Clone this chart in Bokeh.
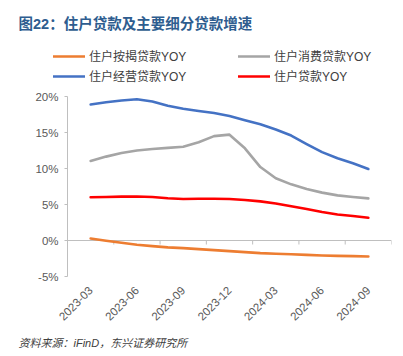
from bokeh.plotting import figure
from bokeh.models import (Range1d, FixedTicker, LinearAxis, PrintfTickFormatter,
                          Legend, LegendItem, Title)
from bokeh.embed import file_html
from bokeh.resources import INLINE
import math

# ---------------- data ----------------
months = ["2023-03", "2023-04", "2023-05", "2023-06", "2023-07", "2023-08", "2023-09",
          "2023-10", "2023-11", "2023-12", "2024-01", "2024-02", "2024-03", "2024-04",
          "2024-05", "2024-06", "2024-07", "2024-08", "2024-09"]
mortgage = [0.28, -0.04, -0.32, -0.58, -0.78, -0.95, -1.06, -1.2, -1.34, -1.48, -1.62,
            -1.75, -1.83, -1.9, -2.0, -2.08, -2.13, -2.17, -2.22]
consumer = [11.05, 11.65, 12.15, 12.5, 12.7, 12.87, 13.02, 13.65, 14.5, 14.7, 12.8,
            10.2, 8.65, 7.8, 7.15, 6.65, 6.27, 6.04, 5.85]
business = [18.88, 19.2, 19.45, 19.62, 19.3, 18.72, 18.3, 17.98, 17.7, 17.3, 16.7,
            16.15, 15.42, 14.58, 13.4, 12.28, 11.42, 10.73, 9.94]
household = [6.0, 6.05, 6.1, 6.12, 6.04, 5.87, 5.77, 5.8, 5.8, 5.76, 5.62, 5.43, 5.15,
             4.76, 4.37, 3.95, 3.62, 3.4, 3.16]
series_names = ["住户按揭贷款YOY", "住户消费贷款YOY", "住户经营贷款YOY", "住户贷款YOY"]
label_months = ["2023-03", "2023-06", "2023-09", "2023-12", "2024-03", "2024-06", "2024-09"]
title_text = "图22：住户贷款及主要细分贷款增速"
source_text = "资料来源：iFinD，东兴证券研究所"

# ---------------- layout constants (pixels) ----------------
CJK = "'Liberation Sans', 'Noto Sans CJK SC'"
W, H = 403, 356
FRAME_L, FRAME_T = 33, 40            # frame edges on the canvas
PLOT_L, PLOT_R = 67, 391             # plotting area (axis region) on the canvas
PLOT_T, PLOT_B = 96, 276
EXT_B = 7                            # frame extends below the -5% line so its label shows
n_slots = len(months) + 2            # one empty category slot on each side
xs = [i + 1.5 for i in range(len(months))]
Y0, Y1 = -5, 20
slot_px = (PLOT_R - PLOT_L) / n_slots
unit_px = (PLOT_B - PLOT_T) / (Y1 - Y0)

p = figure(width=W, height=H, output_backend="svg", toolbar_location=None,
           x_range=Range1d(-(PLOT_L - FRAME_L) / slot_px, n_slots),
           y_range=Range1d(Y0 - EXT_B / unit_px, Y1 + (PLOT_T - FRAME_T) / unit_px),
           min_border_left=FRAME_L, min_border_right=W - PLOT_R,
           min_border_top=FRAME_T, min_border_bottom=H - PLOT_B - EXT_B,
           x_axis_type=None, y_axis_type=None)
p.outline_line_color = None
p.xgrid.visible = False
p.ygrid.visible = False
p.background_fill_color = "white"
p.border_fill_color = "white"

# y axis drawn at x = 0 (left edge of the category area)
yax = LinearAxis(ticker=FixedTicker(ticks=list(range(Y0, Y1 + 1, 5))),
                 formatter=PrintfTickFormatter(format="%d%%"),
                 fixed_location=0, bounds=(Y0, Y1))
yax.axis_line_color = "#BFBFBF"
yax.major_tick_line_color = "#BFBFBF"
yax.major_tick_out = 3
yax.major_tick_in = 0
yax.minor_tick_line_color = None
yax.major_label_standoff = 6
yax.major_label_text_font = CJK
yax.major_label_text_font_size = "11.5px"
yax.major_label_text_color = "#595959"
p.add_layout(yax, "left")

# x labels at the bottom (low position)
label_ticks = [xs[months.index(m)] for m in label_months]
xlab = LinearAxis(ticker=FixedTicker(ticks=label_ticks),
                  major_label_overrides={t: m for t, m in zip(label_ticks, label_months)})
xlab.axis_line_color = None
xlab.major_tick_line_color = None
xlab.minor_tick_line_color = None
xlab.major_label_orientation = math.pi / 4
xlab.major_label_standoff = 6 - EXT_B
xlab.major_label_text_font = CJK
xlab.major_label_text_font_size = "11.5px"
xlab.major_label_text_color = "#595959"
p.add_layout(xlab, "below")

# zero line with boundary tick marks every 3 categories
bounds = list(range(0, n_slots + 1, 3))
tick_len = 4 / unit_px
p.segment(x0=[0], x1=[n_slots], y0=[0], y1=[0], line_color="#BFBFBF", line_width=1)
p.segment(x0=bounds, x1=bounds, y0=[0] * len(bounds), y1=[-tick_len] * len(bounds),
          line_color="#BFBFBF", line_width=1)

colors = ["#ED7D31", "#A5A5A5", "#4472C4", "#FF0000"]
renderers = []
for vals, c in zip([mortgage, consumer, business, household], colors):
    r = p.line(xs, vals, line_color=c, line_width=2.6, line_join="round", line_cap="round")
    renderers.append(r)

def make_legend(items, loc):
    lg = Legend(items=items, location=loc, orientation="vertical")
    lg.background_fill_alpha = 0
    lg.border_line_color = None
    lg.padding = 0
    lg.margin = 0
    lg.spacing = 3
    lg.glyph_width = 32
    lg.glyph_height = 16
    lg.label_height = 16
    lg.label_standoff = 4
    lg.label_text_font = CJK
    lg.label_text_font_size = "12px"
    lg.label_text_color = "#404040"
    p.add_layout(lg, "center")

LEG_B = PLOT_B + EXT_B - 84
make_legend([LegendItem(label=series_names[0], renderers=[renderers[0]]),
             LegendItem(label=series_names[2], renderers=[renderers[2]])], (53 - FRAME_L, LEG_B))
make_legend([LegendItem(label=series_names[1], renderers=[renderers[1]]),
             LegendItem(label=series_names[3], renderers=[renderers[3]])], (238 - FRAME_L, LEG_B))

p.add_layout(Title(text=title_text, align="left", offset=18 - FRAME_L, standoff=18,
                   text_font=CJK, text_font_size="14.5px", text_font_style="bold",
                   text_color="#2E5D8F"), "above")
p.add_layout(Title(text=source_text, align="left", offset=18 - FRAME_L, standoff=16,
                   text_font=CJK, text_font_size="11px", text_font_style="italic",
                   text_color="#404040"), "below")

open("out.html", "w").write(file_html(p, INLINE))
